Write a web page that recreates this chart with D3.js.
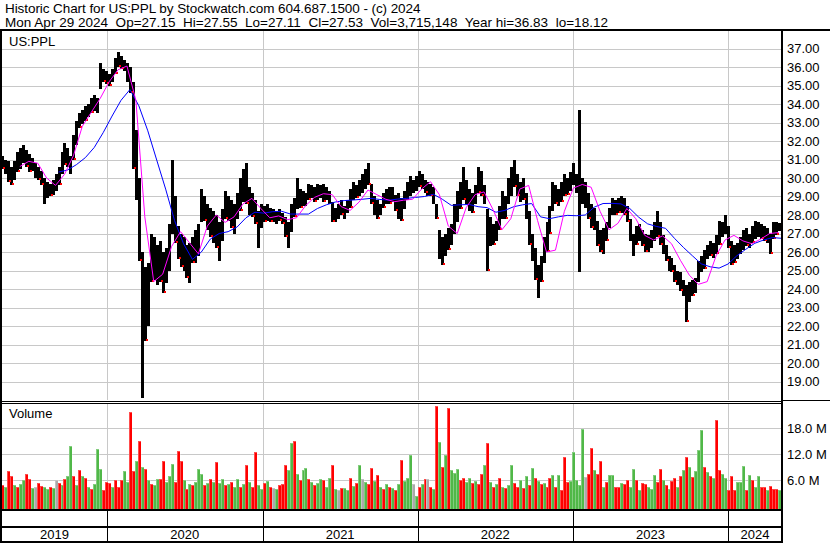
<!DOCTYPE html>
<html>
<head>
<meta charset="utf-8">
<script src="https://cdn.jsdelivr.net/npm/d3@7"></script>
<style>
body { margin: 0; background: #fff; }
svg { display: block; font-family: "Liberation Sans", Arial, sans-serif; }
</style>
</head>
<body>
<script>
// weekly bars, first week starts Mon Apr 29 2019
var firstWeek = Date.UTC(2019, 3, 29);
var lastDay = Date.UTC(2024, 4, 7);

var priceHi = [
  31.2, 31.0, 30.9, 30.6, 30.9, 31.4, 31.6, 31.8, 31.5, 31.3,
  31.1, 30.8, 30.6, 30.4, 30.0, 29.8, 29.7, 29.9, 30.2, 30.6,
  31.4, 31.9, 31.6, 31.2, 32.3, 33.1, 33.5, 33.7, 33.9, 34.0,
  34.3, 34.5, 34.3, 36.2, 35.9, 35.8, 35.6, 35.9, 36.5, 36.83,
  36.6, 36.4, 36.2, 36.0, 35.2, 32.6, 30.0, 26.0, 25.2, 25.4,
  27.0, 26.8, 26.4, 26.6, 26.0, 26.2, 27.5, 30.97, 29.0, 27.4,
  27.0, 26.8, 26.4, 26.5, 26.8, 27.2, 27.5, 29.4, 29.0, 28.6,
  28.4, 28.2, 28.0, 27.6, 28.3, 29.3, 29.0, 28.8, 28.6, 29.2,
  30.0, 30.5, 30.8, 29.5, 29.2, 28.8, 28.2, 28.6, 28.5, 28.6,
  28.4, 28.3, 28.2, 28.3, 28.1, 27.9, 27.6, 28.6, 28.9, 30.0,
  29.4, 29.3, 29.2, 29.7, 29.6, 29.5, 29.7, 29.6, 29.7, 29.5,
  29.3, 28.7, 28.4, 28.6, 28.8, 28.5, 28.8, 29.4, 29.8, 29.6,
  29.9, 30.2, 30.5, 30.8, 29.7, 29.0, 28.8, 28.6, 29.2, 29.4,
  29.5, 29.5, 29.1, 29.2, 28.9, 29.3, 29.8, 30.1, 29.9, 30.1,
  30.4, 30.2, 29.9, 29.8, 29.7, 29.5, 28.6, 27.2, 26.8, 27.0,
  27.3, 27.5, 28.6, 29.3, 29.8, 30.6, 29.9, 29.4, 29.2, 29.6,
  30.6, 30.4, 29.6, 28.3, 27.9, 27.5, 27.7, 28.5, 29.3, 29.0,
  30.0, 30.6, 31.0, 30.2, 29.8, 30.0, 29.2, 28.2, 27.0, 26.2,
  25.3, 25.8, 26.8, 27.6, 28.5, 29.8, 29.6, 29.4, 29.8, 30.2,
  30.0, 30.3, 30.8, 30.2, 33.7, 30.0, 29.8, 29.2, 28.6, 28.4,
  27.7, 27.2, 27.3, 27.6, 28.4, 28.9, 28.8, 28.9, 29.0, 28.9,
  28.5, 27.8, 27.0, 27.4, 27.5, 27.2, 27.0, 26.9, 27.2, 27.6,
  28.2, 27.6, 26.9, 26.4, 25.8, 25.7, 25.3, 25.0, 24.9, 24.5,
  24.2, 24.4, 24.5, 24.6, 25.5, 25.8, 26.1, 26.4, 26.6, 26.5,
  26.9, 27.7, 27.6, 28.0, 27.4, 26.6, 26.4, 26.5, 26.8, 27.2,
  27.3, 27.0, 27.4, 27.7, 27.6, 27.5, 27.4, 27.3, 27.0, 27.6,
  27.6, 27.55
];
var priceLo = [
  30.5, 30.2, 29.8, 29.6, 29.9, 30.3, 30.5, 30.8, 30.6, 30.3,
  30.4, 30.0, 29.9, 29.6, 28.6, 28.9, 29.0, 29.1, 29.3, 29.6,
  30.2, 30.7, 30.6, 30.2, 31.0, 31.8, 32.7, 32.9, 33.1, 33.3,
  33.5, 33.6, 33.5, 34.8, 35.2, 35.1, 35.0, 35.2, 35.6, 36.0,
  35.9, 35.8, 35.2, 34.6, 30.5, 28.8, 25.5, 18.12, 21.2, 22.0,
  24.4, 24.5, 24.2, 24.4, 23.8, 24.3, 25.0, 27.0, 26.5, 25.6,
  25.2, 25.0, 24.6, 24.3, 25.4, 25.4, 25.8, 27.6, 27.7, 27.2,
  26.8, 26.5, 26.2, 25.5, 26.6, 27.8, 27.7, 27.3, 27.0, 27.8,
  28.2, 28.7, 28.6, 28.0, 27.9, 27.5, 26.2, 27.3, 27.6, 27.7,
  27.6, 27.6, 27.5, 27.7, 27.5, 26.8, 26.2, 27.1, 27.9, 28.3,
  28.4, 28.5, 28.5, 28.8, 28.9, 28.7, 28.8, 28.9, 28.7, 28.8,
  28.6, 27.6, 27.6, 27.8, 28.0, 27.8, 28.1, 28.4, 28.8, 28.9,
  29.0, 29.2, 29.4, 29.6, 28.6, 28.0, 27.8, 28.0, 28.4, 28.6,
  28.6, 28.7, 28.2, 27.8, 27.7, 28.3, 28.8, 29.0, 29.2, 29.3,
  29.5, 29.4, 29.2, 29.0, 29.0, 28.6, 27.8, 25.6, 25.3, 25.8,
  26.1, 26.4, 27.0, 27.6, 28.3, 28.8, 28.6, 28.2, 28.1, 28.6,
  29.2, 29.0, 28.6, 25.0, 26.3, 26.4, 26.6, 27.2, 27.8, 27.8,
  28.6, 29.0, 29.5, 29.0, 28.7, 28.8, 27.8, 26.4, 25.5, 24.5,
  23.5, 24.4, 25.4, 26.0, 27.0, 28.2, 28.6, 28.5, 28.7, 29.0,
  29.1, 29.3, 29.6, 29.2, 24.9, 28.6, 28.4, 27.8, 27.3, 27.2,
  26.3, 26.0, 25.9, 26.6, 27.3, 28.0, 28.0, 28.1, 28.1, 28.0,
  27.6, 26.6, 25.8, 26.4, 26.6, 26.3, 26.0, 26.0, 26.2, 26.6,
  26.8, 26.4, 25.9, 25.5, 25.0, 24.9, 24.4, 24.2, 23.9, 23.6,
  22.2, 23.3, 23.6, 23.8, 24.4, 24.9, 25.1, 25.6, 25.8, 25.7,
  25.9, 26.4, 26.8, 27.0, 26.2, 25.3, 25.4, 25.6, 25.9, 26.1,
  26.3, 26.2, 26.5, 26.7, 26.8, 26.7, 26.6, 26.5, 25.9, 26.7,
  26.9, 27.11
];

// volume in millions, one bar per week, colour r = down, g = up, n = unchanged
var volume = [
  4.8, 4.5, 8.1, 6.9, 4.8, 4.5, 5.0, 6.0, 7.3, 6.2,
  4.2, 4.5, 5.3, 4.7, 4.4, 4.0, 4.5, 4.2, 6.0, 5.2,
  4.8, 6.3, 7.0, 13.8, 7.0, 4.8, 8.3, 7.0, 6.5, 4.5,
  4.0, 5.0, 13.2, 8.5, 3.7, 5.5, 5.2, 4.5, 6.0, 4.5,
  6.0, 8.0, 5.5, 21.7, 8.0, 10.5, 15.0, 9.0, 8.5, 6.0,
  5.0, 4.8, 6.3, 6.2, 10.3, 5.5, 7.0, 9.6, 5.5, 12.7,
  10.3, 6.0, 4.0, 5.0, 4.8, 5.5, 8.6, 7.5, 4.8, 5.2,
  6.3, 5.5, 10.2, 5.2, 6.2, 4.8, 5.0, 5.6, 4.5, 6.2,
  4.5, 5.0, 9.4, 5.5, 4.5, 12.5, 4.8, 4.0, 5.2, 5.8,
  4.5, 4.2, 4.0, 4.8, 5.0, 9.4, 8.3, 14.6, 15.0, 7.5,
  6.0, 8.3, 8.8, 6.3, 5.5, 4.8, 5.2, 6.2, 6.0, 4.5,
  6.4, 9.5, 4.0, 3.8, 4.2, 4.2, 3.8, 6.4, 4.7, 5.2,
  9.5, 6.2, 5.5, 5.0, 8.8, 5.8, 7.2, 4.5, 4.0, 5.0,
  4.5, 4.2, 3.8, 5.0, 10.7, 5.8, 6.4, 11.8, 5.0, 2.4,
  4.5, 5.0, 6.2, 6.2, 4.5, 4.0, 23.1, 14.8, 9.0, 11.7,
  22.6, 8.3, 7.7, 8.5, 6.0, 6.4, 5.5, 6.4, 5.2, 5.8,
  5.0, 7.3, 9.5, 14.6, 5.5, 4.5, 5.0, 6.4, 4.5, 4.2,
  4.8, 9.5, 5.2, 4.5, 6.0, 4.2, 6.9, 4.8, 8.7, 6.4,
  5.8, 5.0, 5.2, 4.5, 6.4, 7.2, 4.5, 7.2, 3.8, 11.4,
  5.5, 5.8, 12.4, 6.0, 4.8, 17.8, 6.6, 7.5, 13.3, 8.3,
  7.5, 10.5, 4.5, 5.6, 7.2, 7.2, 4.5, 4.5, 5.2, 5.0,
  6.0, 4.5, 8.5, 6.0, 3.7, 5.4, 5.0, 4.5, 4.0, 7.2,
  5.6, 8.5, 6.0, 4.8, 4.0, 5.8, 6.4, 4.5, 6.9, 8.3,
  11.4, 9.0, 6.6, 8.0, 13.0, 17.5, 8.9, 7.9, 7.0, 6.4,
  19.8, 8.3, 7.4, 6.4, 3.7, 6.9, 3.7, 5.6, 5.6, 9.2,
  3.7, 7.2, 6.0, 4.5, 6.9, 4.5, 4.5, 3.7, 4.6, 4.0,
  4.0, 3.7
];
var volColor =
  "rgrrgrggrr" + "gnrrggrgnr" + "grggrgrgrg" + "rgggrrrgrr" + "rggrrgrgrg" +
  "rggrrgggrr" + "rgrgrgggrg" + "rgrggrgrgg" + "rgrgrrggrg" + "rngrrrggrg" +
  "rggrgrggrg" + "grgnrggrgr" + "gngrrgrgrg" + "rgrgrgggng" + "rgrnrgrgrg" +
  "rgggrrggrg" + "rrgrgrgrgr" + "ggrrgrgrgr" + "grgrrgrgrr" + "rgggggnrrg" +
  "rrgrggrrgr" + "rggrgrrggg" + "rrgrgrrgrg" + "rgrgggrgrg" + "rrggrrrggg" +
  "rgrggrrgrr" + "rg";

// moving averages, one value every 3 weeks
var maStep = 3;
var maShortStart = 6;
var maShort = [
  30.62, 30.9, 30.8, 30.0, 29.6, 30.2, 31.2, 32.8, 33.55, 34.3,
  35.2, 35.85, 36.05, 34.2, 27.9, 24.4, 24.8, 26.3, 27.1, 26.5,
  25.9, 27.4, 28.0, 27.6, 27.9, 28.6, 28.9, 28.35, 27.85, 27.95,
  27.75, 27.85, 28.5, 28.95, 29.15, 29.1, 28.45, 28.25, 28.7, 29.35,
  29.1, 28.85, 28.72, 28.8, 28.85, 29.4, 29.8, 29.1, 27.4, 27.0,
  28.4, 29.1, 29.25, 28.3, 27.2, 27.8, 29.4, 29.6, 27.7, 26.0,
  26.1, 28.2, 29.45, 29.65, 29.5, 28.2, 27.2, 27.55, 28.35, 27.8,
  26.9, 26.65, 26.87, 26.45, 25.55, 24.75, 24.25, 24.4, 25.8, 26.65,
  26.9, 26.6, 26.45, 26.7, 27.0, 27.05
];
var maLongStart = 19;
var maLong = [
  30.32, 30.43, 30.72, 31.1, 31.65, 32.45, 33.35, 34.2, 34.78, 33.9,
  32.55, 30.97, 29.4, 27.7, 26.45, 25.6, 26.0, 26.7, 27.0, 27.1,
  27.35, 27.85, 28.15, 28.1, 28.18, 28.2, 28.05, 28.05, 28.05, 28.35,
  28.55, 28.7, 28.78, 28.81, 28.85, 28.9, 28.84, 28.8, 28.86, 28.9,
  28.95, 29.0, 29.12, 28.85, 28.52, 28.55, 28.57, 28.45, 28.4, 28.15,
  28.25, 28.45, 28.55, 28.62, 27.9, 27.8, 27.9, 27.98, 27.96, 28.0,
  28.42, 28.62, 28.63, 28.6, 28.35, 27.88, 27.52, 27.38, 27.28, 26.74,
  26.25, 25.8, 25.36, 25.2, 25.13, 25.35, 25.8, 26.15, 26.47, 26.65,
  26.78, 26.74
];

var years = [2019, 2020, 2021, 2022, 2023, 2024];
var priceTicks = [19, 20, 21, 22, 23, 24, 25, 26, 27, 28, 29, 30, 31, 32, 33, 34, 35, 36, 37];
var volTicks = [6, 12, 18];
var headerLines = [
  "Historic Chart for US:PPL by Stockwatch.com 604.687.1500 - (c) 2024",
  "Mon Apr 29 2024  Op=27.15  Hi=27.55  Lo=27.11  Cl=27.53  Vol=3,715,148  Year hi=36.83  lo=18.12"
];
var headerWidths = [416, 603];

var svgWidth = 830;
var svgHeight = 543;
var plotLeft = 2, plotRight = 782;
var priceTop = 30, priceBottom = 400;
var volTop = 403, volBottom = 509;
var bandTop = 511, labelTop = 527, bandBottom = 542;

var colors = { r: "#ff0000", g: "#50b848", n: "#aaaaaa" };
var gridColor = "#c8c8c8";

function weekDate(i) {
  return new Date(firstWeek + i * 7 * 864e5);
}

var svg = d3.select("body")
  .append("svg")
  .attr("width", svgWidth)
  .attr("height", svgHeight);

var x = d3.scaleUtc()
  .domain([new Date(firstWeek), new Date(lastDay)])
  .range([plotLeft, plotRight]);

var yPrice = d3.scaleLinear().domain([18, 38]).range([priceBottom, priceTop]);
var yVol = d3.scaleLinear().domain([0, 18]).range([506, 428]);

var yearStarts = years.slice(1).map(function(y) { return x(new Date(Date.UTC(y, 0, 1))); });

// header, stretched to the width of the original lines
svg.selectAll(".hdr")
  .data(headerLines)
  .enter().append("text")
  .attr("class", "hdr")
  .attr("x", 5)
  .attr("y", function(d, i) { return 13 + i * 14; })
  .style("font-size", "13.5px")
  .style("white-space", "pre")
  .text(function(d) { return d; })
  .each(function(d, i) {
    var natural = this.getBBox().width;
    var ls = (headerWidths[i] - natural) / (d.length - 1);
    this.style.letterSpacing = ls.toFixed(3) + "px";
  });

// gridlines
var grid = svg.append("g").attr("shape-rendering", "crispEdges").attr("stroke", gridColor);
grid.selectAll(".hg")
  .data(priceTicks)
  .enter().append("line")
  .attr("x1", plotLeft).attr("x2", plotRight)
  .attr("y1", function(d) { return Math.round(yPrice(d)) + 0.5; })
  .attr("y2", function(d) { return Math.round(yPrice(d)) + 0.5; });
grid.selectAll(".vg")
  .data(volTicks)
  .enter().append("line")
  .attr("x1", plotLeft).attr("x2", plotRight)
  .attr("y1", function(d) { return Math.round(yVol(d)) + 0.5; })
  .attr("y2", function(d) { return Math.round(yVol(d)) + 0.5; });
yearStarts.forEach(function(xx) {
  var px = Math.round(xx) + 0.5;
  grid.append("line").attr("x1", px).attr("x2", px).attr("y1", priceTop).attr("y2", priceBottom);
  grid.append("line").attr("x1", px).attr("x2", px).attr("y1", volTop).attr("y2", volBottom);
});

// price bars
var weeks = d3.range(priceHi.length);
var bars = svg.append("g").attr("shape-rendering", "crispEdges");
bars.selectAll(".pb")
  .data(weeks)
  .enter().append("rect")
  .attr("x", function(i) { return Math.round(x(weekDate(i))) - 1; })
  .attr("width", 3)
  .attr("y", function(i) { return Math.round(yPrice(priceHi[i])); })
  .attr("height", function(i) { return Math.max(1, Math.round(yPrice(priceLo[i])) - Math.round(yPrice(priceHi[i]))); })
  .attr("fill", "#000");
// red close marks on down weeks
bars.selectAll(".pc")
  .data(weeks.filter(function(i) { return volColor[i] === "r"; }))
  .enter().append("rect")
  .attr("x", function(i) { return Math.round(x(weekDate(i))) + 1; })
  .attr("width", 2)
  .attr("y", function(i) { return Math.round(yPrice(priceLo[i])) - 2; })
  .attr("height", 2)
  .attr("fill", "#ff0000");

// moving averages
function maPoints(vals, start) {
  return vals.map(function(v, k) { return { date: weekDate(start + k * maStep), value: v }; });
}
var maLine = d3.line()
  .x(function(d) { return x(d.date); })
  .y(function(d) { return yPrice(d.value); });

svg.append("path")
  .datum(maPoints(maLong, maLongStart))
  .attr("d", maLine)
  .attr("fill", "none")
  .attr("stroke", "#0000ff")
  .attr("stroke-width", 1);

svg.append("path")
  .datum(maPoints(maShort, maShortStart))
  .attr("d", maLine)
  .attr("fill", "none")
  .attr("stroke", "#ff00ff")
  .attr("stroke-width", 1);

// volume bars
svg.append("g")
  .attr("shape-rendering", "crispEdges")
  .selectAll("rect")
  .data(d3.range(volume.length))
  .enter().append("rect")
  .attr("x", function(i) { return Math.round(x(weekDate(i))) - 1; })
  .attr("width", 3)
  .attr("y", function(i) { return Math.round(yVol(volume[i])); })
  .attr("height", function(i) { return volBottom - Math.round(yVol(volume[i])); })
  .attr("fill", function(i) { return colors[volColor[i]]; })
  .attr("stroke", "#fff")
  .attr("stroke-width", 0.3);

// frame
var frame = svg.append("g").attr("shape-rendering", "crispEdges").attr("fill", "#000");
frame.append("rect").attr("x", 0).attr("y", 29).attr("width", svgWidth).attr("height", 2);
frame.append("rect").attr("x", 0).attr("y", 29).attr("width", 2).attr("height", svgHeight - 29);
frame.append("rect").attr("x", plotRight - 1).attr("y", 29).attr("width", 2).attr("height", svgHeight - 29);
frame.append("rect").attr("x", 0).attr("y", 401).attr("width", plotRight).attr("height", 1);
frame.append("rect").attr("x", 0).attr("y", 403).attr("width", plotRight).attr("height", 1);
frame.append("rect").attr("x", plotRight).attr("y", 400).attr("width", svgWidth - plotRight).attr("height", 1);
frame.append("rect").attr("x", 0).attr("y", volBottom).attr("width", plotRight).attr("height", 2);
frame.append("rect").attr("x", 0).attr("y", labelTop - 1).attr("width", plotRight).attr("height", 2);
frame.append("rect").attr("x", 0).attr("y", bandBottom - 1).attr("width", plotRight).attr("height", 2);
yearStarts.forEach(function(xx) {
  frame.append("rect").attr("x", Math.round(xx)).attr("y", bandTop).attr("width", 1).attr("height", bandBottom - bandTop);
});

// year labels
var bounds = [plotLeft].concat(yearStarts).concat([plotRight]);
svg.selectAll(".yr")
  .data(years)
  .enter().append("text")
  .attr("x", function(d, i) { return (bounds[i] + bounds[i + 1]) / 2; })
  .attr("y", 539)
  .attr("text-anchor", "middle")
  .attr("font-size", "13px")
  .text(function(d) { return d; });

// panel labels
svg.append("text").attr("x", 9).attr("y", 46).attr("font-size", "13px").text("US:PPL");
svg.append("text").attr("x", 9).attr("y", 418).attr("font-size", "13px").text("Volume");

// right axes
var priceAxis = svg.append("g")
  .attr("transform", "translate(" + plotRight + ",0)")
  .call(d3.axisRight(yPrice).tickValues(priceTicks).tickFormat(d3.format(".2f")).tickSize(0).tickPadding(5));
var volAxis = svg.append("g")
  .attr("transform", "translate(" + plotRight + ",0)")
  .call(d3.axisRight(yVol).tickValues(volTicks).tickFormat(function(d) { return d3.format(".1f")(d) + " M"; }).tickSize(0).tickPadding(5));
[priceAxis, volAxis].forEach(function(a) {
  a.select(".domain").remove();
  a.attr("font-size", "13px").attr("font-family", null);
  a.selectAll("text").attr("fill", "#000");
});
</script>
</body>
</html>
